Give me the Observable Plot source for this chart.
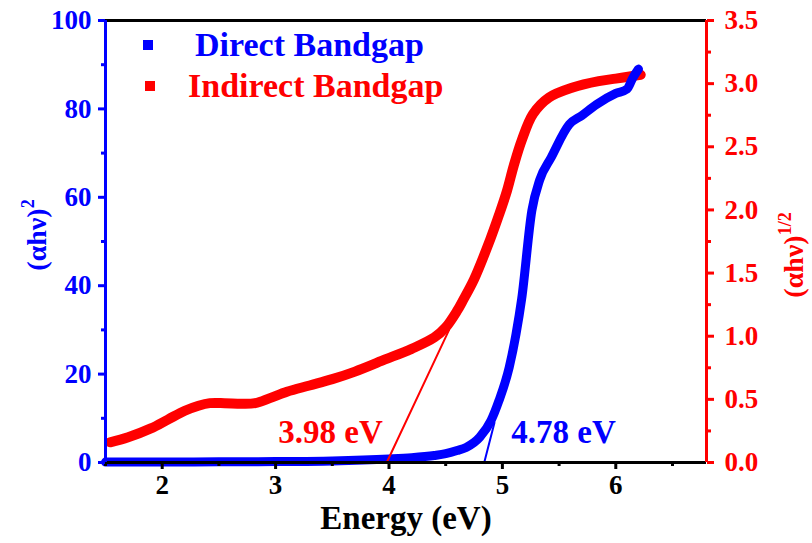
<!DOCTYPE html>
<html><head><meta charset="utf-8">
<script src="https://cdn.jsdelivr.net/npm/d3@7"></script>
<script src="https://cdn.jsdelivr.net/npm/@observablehq/plot@0.6"></script>
<style>
body{margin:0;background:#fff;}
#wrap{position:relative;width:812px;height:543px;font-family:'Liberation Serif','Times New Roman',serif;font-weight:bold;}
.leg{position:absolute;display:flex;align-items:center;font-size:34px;white-space:nowrap;}
.leg .sw{display:inline-block;width:10px;height:10px;}
</style></head><body><div id="wrap"></div>
<script>
// ---- data ----
const energyDirect = [1.5,2.0,2.5,3.0,3.5,4.0,4.2,4.4,4.5,4.6,4.68,4.8,4.9,4.97,5.06,5.12,5.17,5.26,5.33,5.43,5.59,5.7,5.83,6.0,6.1,6.15,6.2];
const direct       = [0.1,0.1,0.15,0.2,0.35,0.8,1.1,1.6,2.0,2.7,3.4,5.7,9.5,14,21.5,29,37,57,64,69,76.5,78.5,81,83.5,84.5,87,89];
const energyIndirect = [1.54,1.7,1.9,2.05,2.2,2.32,2.42,2.55,2.7,2.82,2.95,3.1,3.3,3.5,3.7,3.95,4.2,4.4,4.5,4.6,4.65,4.75,4.89,4.97,5.04,5.1,5.17,5.27,5.41,5.62,5.85,6.0,6.15,6.22];
const indirect       = [0.16,0.2,0.27,0.34,0.41,0.45,0.47,0.47,0.465,0.47,0.51,0.56,0.61,0.66,0.72,0.81,0.9,0.99,1.07,1.2,1.28,1.45,1.76,1.96,2.15,2.35,2.55,2.76,2.89,2.97,3.02,3.04,3.06,3.07];
const directFitX = [4.84, 4.93];
const directFitY = [0, 9];
const indirectFitX = [3.98, 4.53];
const indirectFitY = [0, 1.05];
const xDomain = [1.5, 6.8];
const leftDomain = [0, 100];
const rightDomain = [0, 3.5];
const xTicks = [2,3,4,5,6];
const xMinor = [1.5,2.5,3.5,4.5,5.5,6.5];
const leftTicks = [0,20,40,60,80,100];
const leftMinor = [10,30,50,70,90];
const rightTicks = [0,0.5,1.0,1.5,2.0,2.5,3.0,3.5];
const rightMinor = [0.25,0.75,1.25,1.75,2.25,2.75,3.25];
const seriesNames = ["Direct Bandgap", "Indirect Bandgap"];
const seriesColors = ["#0000ff", "#ff0000"];
const gapLabels = ["4.78 eV", "3.98 eV"];

const K = leftDomain[1] / rightDomain[1];
const directData = energyDirect.map((e,i)=>({e, v: direct[i]}));
const indirectData = energyIndirect.map((e,i)=>({e, v: indirect[i] * K}));
const dFit = directFitX.map((e,i)=>({e, v: directFitY[i]}));
const iFit = indirectFitX.map((e,i)=>({e, v: indirectFitY[i] * K}));
const BLUE = seriesColors[0], RED = seriesColors[1];
const FONT = "'Liberation Serif','Times New Roman',serif";

const chart = Plot.plot({
  width: 812, height: 543,
  marginLeft: 105, marginRight: 106, marginTop: 20, marginBottom: 81,
  style: {fontFamily: FONT, fontWeight: "bold", fontSize: "27px", background: "white", overflow: "visible"},
  x: {domain: xDomain},
  y: {domain: leftDomain},
  marks: [
    Plot.ruleY([leftDomain[1]], {stroke: "black", strokeWidth: 3}),
    Plot.line(indirectData, {x: "e", y: "v", stroke: RED, strokeWidth: 10, curve: "catmull-rom"}),
    Plot.line(directData, {x: "e", y: "v", stroke: BLUE, strokeWidth: 9, curve: "monotone-x"}),
    Plot.line(iFit, {x: "e", y: "v", stroke: RED, strokeWidth: 2}),
    Plot.line(dFit, {x: "e", y: "v", stroke: BLUE, strokeWidth: 2}),
    Plot.text([gapLabels[1]], {x: indirectFitX[0], y: 0, text: d=>d, fill: RED, fontSize: 33, textAnchor: "end", dx: -4, dy: -30}),
    Plot.text([gapLabels[0]], {x: directFitX[0], y: 0, text: d=>d, fill: BLUE, fontSize: 33, textAnchor: "start", dx: 27, dy: -30}),
    Plot.ruleY([leftDomain[0]], {stroke: "black", strokeWidth: 3}),
    Plot.ruleX([xDomain[0]], {stroke: BLUE, strokeWidth: 3}),
    Plot.ruleX([xDomain[1]], {stroke: RED, strokeWidth: 3}),
    Plot.axisX({ticks: xTicks, tickFormat: d3.format("d"), tickSize: 7, tickPadding: 5, strokeWidth: 3, stroke: "black", fill: "black", label: null}),
    Plot.axisX({ticks: xMinor, tickSize: 4, strokeWidth: 3, stroke: "black", tickFormat: () => "", label: null}),
    Plot.axisY({ticks: leftTicks, tickSize: 7, tickPadding: 7, strokeWidth: 3, stroke: BLUE, fill: BLUE, label: null}),
    Plot.axisY({ticks: leftMinor, tickSize: 4, strokeWidth: 3, stroke: BLUE, tickFormat: () => "", label: null}),
    Plot.axisY({anchor: "right", ticks: rightTicks.map(v => v * K), tickFormat: d => (d / K).toFixed(1), tickSize: 7, tickPadding: 11, strokeWidth: 3, stroke: RED, fill: RED, label: null}),
    Plot.axisY({anchor: "right", ticks: rightMinor.map(v => v * K), tickFormat: () => "", tickSize: 4, strokeWidth: 3, stroke: RED, label: null}),
    Plot.text(["Energy (eV)"], {frameAnchor: "bottom", text: d=>d, dy: 66, fontSize: 33, fill: "black"})
  ]
});

const wrap = document.getElementById("wrap");
wrap.appendChild(chart);

// axis titles with superscripts
const svg = d3.select(chart);
const ys = chart.scale("y");
const midY = (ys.range[0] + ys.range[1]) / 2;
const lt = svg.append("text")
  .attr("transform", `translate(46,${midY - 6}) rotate(-90)`)
  .attr("text-anchor", "middle").attr("fill", BLUE)
  .style("font-family", FONT).style("font-weight", "bold").style("font-size", "28px");
lt.append("tspan").text("(αhν)");
lt.append("tspan").attr("dy", -12).style("font-size", "18px").text("2");
const rt = svg.append("text")
  .attr("transform", `translate(803,${midY + 14}) rotate(-90)`)
  .attr("text-anchor", "middle").attr("fill", RED)
  .style("font-family", FONT).style("font-weight", "bold").style("font-size", "28px");
rt.append("tspan").text("(αhν)");
rt.append("tspan").attr("dy", -12).style("font-size", "18px").text("1/2");

// legend
const legPos = [[143, 26, 195], [145, 67, 188]];
seriesNames.forEach((name, i) => {
  const d = document.createElement("div");
  d.className = "leg";
  d.style.left = legPos[i][0] + "px";
  d.style.top = legPos[i][1] + "px";
  d.style.color = seriesColors[i];
  const sw = document.createElement("span");
  sw.className = "sw"; sw.style.background = seriesColors[i];
  sw.style.marginRight = (legPos[i][2] - legPos[i][0] - 10) + "px";
  const t = document.createElement("span"); t.textContent = name;
  d.appendChild(sw); d.appendChild(t);
  wrap.appendChild(d);
});
</script></body></html>
